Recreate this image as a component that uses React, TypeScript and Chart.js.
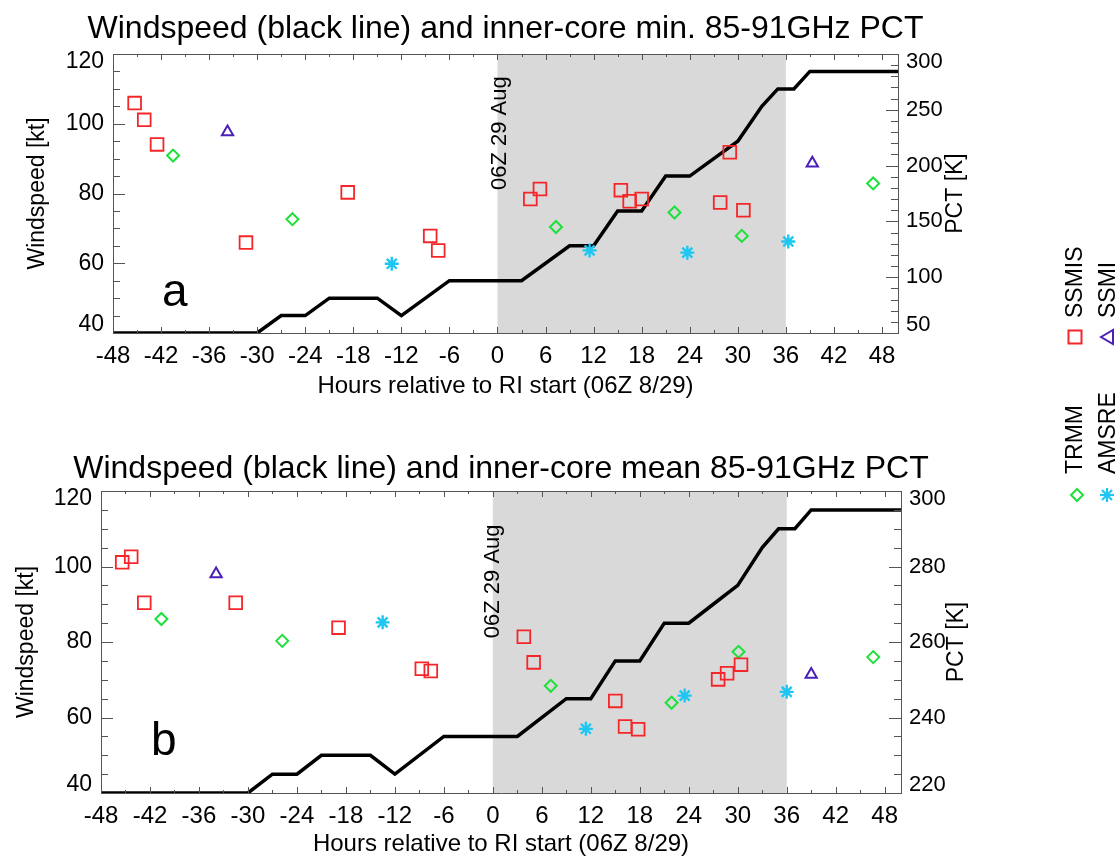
import React, { useEffect, useRef } from "react";
import { Chart, registerables } from "chart.js";

Chart.register(...registerables);

// ---------------- DATA ----------------
const xTickValues = [-48, -42, -36, -30, -24, -18, -12, -6, 0, 6, 12, 18, 24, 30, 36, 42, 48];
const windTickValues = [40, 60, 80, 100, 120];
const pctTickValuesA = [50, 100, 150, 200, 250, 300];
const pctTickValuesB = [220, 240, 260, 280, 300];

// windspeed (kt) vs hours relative to RI start
const windHours = [-48, -30, -27, -24, -21, -15, -12, -6, 3, 9, 12, 15, 18, 21, 24, 27, 30, 33, 35, 37, 39, 50];
const windKt = [40, 40, 45, 45, 50, 50, 45, 55, 55, 65, 65, 75, 75, 85, 85, 90, 95, 105, 110, 110, 115, 115];

// Panel a: inner-core minimum PCT (K)
const ssmisHoursA = [-45.3, -44.1, -42.5, -31.4, -18.7, -8.4, -7.4, 4.1, 5.3, 15.4, 16.5, 18.0, 27.8, 29.0, 30.7];
const ssmisPctA = [256, 241, 219, 131, 176, 137, 124, 170, 179, 178, 168, 170, 167, 212, 160];
const ssmiHoursA = [-33.7, 39.3];
const ssmiPctA = [230, 202];
const trmmHoursA = [-40.5, -25.6, 7.3, 22.1, 30.5, 46.9];
const trmmPctA = [209, 152, 145, 158, 137, 184];
const amsreHoursA = [-13.2, 11.5, 23.7, 36.3];
const amsrePctA = [112, 124, 122, 132];

// Panel b: inner-core mean PCT (K)
const ssmisHoursB = [-45.4, -44.3, -42.7, -31.5, -18.9, -8.7, -7.6, 3.8, 5.0, 15.0, 16.2, 17.8, 27.6, 28.7, 30.4];
const ssmisPctB = [281.1, 282.6, 270.4, 270.4, 263.8, 252.9, 252.3, 261.4, 254.6, 244.4, 237.6, 236.9, 250.1, 251.7, 254.0];
const ssmiHoursB = [-33.9, 39.0];
const ssmiPctB = [278, 251.4];
const trmmHoursB = [-40.6, -25.8, 7.1, 21.9, 30.1, 46.6];
const trmmPctB = [266.1, 260.3, 248.4, 243.9, 257.4, 256.0];
const amsreHoursB = [-13.5, 11.4, 23.5, 36.0];
const amsrePctB = [265.2, 237.0, 245.8, 246.8];

const riStart = 0;
const riEnd = 36;

// ---------------- STYLE ----------------
const FONT = '"Liberation Sans", Arial, Helvetica, sans-serif';
const RED = "#f5262a";
const PURPLE = "#4a1fb8";
const GREEN = "#1fe03a";
const CYAN = "#1ec6f2";
const AXIS = "#555555";
const SHADE = "#d9d9d9";
const CANVAS_W = 1000;

const zip = (xs: number[], ys: number[]) => xs.map((x, i) => ({ x, y: ys[i] }));

type PanelCfg = {
  top: number;
  height: number;
  area: { left: number; right: number; top: number; bottom: number };
  title: string;
  titleY: number;
  xTitleY: number;
  yTitleX: number;
  y1TitleX: number;
  letter: string;
  letterX: number;
  letterY: number;
  labelOffset: number;
  y1Min: number;
  y1Max: number;
  y1Ticks: number[];
  y1Minor: number;
  y1Major: number;
  ssmis: { x: number; y: number }[];
  ssmi: { x: number; y: number }[];
  trmm: { x: number; y: number }[];
  amsre: { x: number; y: number }[];
};

function Panel({ cfg }: { cfg: PanelCfg }) {
  const ref = useRef<HTMLCanvasElement | null>(null);
  useEffect(() => {
    if (!ref.current) return;
    const a = cfg.area;
    const line = (ctx: CanvasRenderingContext2D, x1: number, y1: number, x2: number, y2: number) => {
      ctx.beginPath();
      ctx.moveTo(x1, y1);
      ctx.lineTo(x2, y2);
      ctx.stroke();
    };
    const deco = {
      id: "deco",
      beforeDraw(chart: any) {
        const ctx = chart.ctx as CanvasRenderingContext2D;
        const ca = chart.chartArea;
        const xs = chart.scales.x;
        const x0 = xs.getPixelForValue(riStart);
        const x1 = xs.getPixelForValue(riEnd);
        ctx.save();
        ctx.fillStyle = SHADE;
        ctx.fillRect(x0, ca.top, x1 - x0, ca.bottom - ca.top);
        ctx.restore();
      },
      afterDraw(chart: any) {
        const ctx = chart.ctx as CanvasRenderingContext2D;
        const ca = chart.chartArea;
        const xs = chart.scales.x;
        const ys = chart.scales.y;
        const y1s = chart.scales.y1;
        ctx.save();
        ctx.strokeStyle = AXIS;
        ctx.lineWidth = 1;
        line(ctx, ca.left, ca.top + 0.5, ca.right, ca.top + 0.5);
        for (let h = -48; h <= 48; h += 3) {
          const px = Math.round(xs.getPixelForValue(h)) + 0.5;
          const L = h % 6 === 0 ? 6 : 3;
          line(ctx, px, ca.bottom, px, ca.bottom - L);
          line(ctx, px, ca.top, px, ca.top + L);
        }
        for (let v = 40; v <= 120; v += 5) {
          const py = Math.round(ys.getPixelForValue(v)) + 0.5;
          const L = v % 20 === 0 ? 12 : 7;
          line(ctx, ca.left, py, ca.left + L, py);
        }
        for (let v = cfg.y1Min; v <= cfg.y1Max; v += cfg.y1Minor) {
          const py = Math.round(y1s.getPixelForValue(v)) + 0.5;
          const L = (v - cfg.y1Min) % cfg.y1Major === 0 ? 12 : 7;
          line(ctx, ca.right, py, ca.right - L, py);
        }
        ctx.fillStyle = "#000";
        // y tick labels (end labels kept inside the frame, as in the original)
        const clampY = (py: number) => Math.min(ca.bottom - 8, Math.max(ca.top + 8, py));
        ctx.textBaseline = "middle";
        ctx.font = `23px ${FONT}`;
        ctx.textAlign = "right";
        for (const t of ys.ticks) {
          ctx.fillText(String(t.value), ca.left - 9, clampY(ys.getPixelForValue(t.value)));
        }
        ctx.font = `22px ${FONT}`;
        ctx.textAlign = "left";
        for (const t of y1s.ticks) {
          ctx.fillText(String(t.value), ca.right + 8, clampY(y1s.getPixelForValue(t.value)));
        }
        ctx.textBaseline = "alphabetic";
        // title
        ctx.font = `32px ${FONT}`;
        ctx.textAlign = "center";
        ctx.fillText(cfg.title, (ca.left + ca.right) / 2, cfg.titleY);
        // x title
        ctx.font = `24px ${FONT}`;
        ctx.fillText("Hours relative to RI start (06Z 8/29)", (ca.left + ca.right) / 2, cfg.xTitleY);
        // y titles
        const mid = (ca.top + ca.bottom) / 2;
        ctx.save();
        ctx.translate(cfg.yTitleX, mid);
        ctx.rotate(-Math.PI / 2);
        ctx.font = `23px ${FONT}`;
        ctx.fillText("Windspeed [kt]", 0, 0);
        ctx.restore();
        ctx.save();
        ctx.translate(cfg.y1TitleX, mid);
        ctx.rotate(-Math.PI / 2);
        ctx.font = `23px ${FONT}`;
        ctx.fillText("PCT [K]", 0, 0);
        ctx.restore();
        // RI label
        ctx.save();
        ctx.translate(xs.getPixelForValue(riStart) + cfg.labelOffset, ys.getPixelForValue(81));
        ctx.rotate(-Math.PI / 2);
        ctx.textAlign = "left";
        ctx.font = `22px ${FONT}`;
        ctx.fillText("06Z 29 Aug", 0, 0);
        ctx.restore();
        // panel letter
        ctx.textAlign = "left";
        ctx.font = `46px ${FONT}`;
        ctx.fillText(cfg.letter, cfg.letterX, cfg.letterY);
        ctx.restore();
      },
    };

    const tickFont = { family: FONT, size: 23 };
    const chart = new Chart(ref.current, {
      type: "scatter",
      data: {
        datasets: [
          {
            label: "Windspeed",
            data: zip(windHours, windKt),
            showLine: true,
            borderColor: "#000",
            borderWidth: 3.5,
            pointRadius: 0,
            yAxisID: "y",
            order: 5,
          } as any,
          {
            label: "SSMIS",
            data: cfg.ssmis,
            pointStyle: "rect",
            pointRadius: 9,
            borderColor: RED,
            backgroundColor: "rgba(0,0,0,0)",
            borderWidth: 1.8,
            yAxisID: "y1",
            order: 1,
          },
          {
            label: "SSMI",
            data: cfg.ssmi,
            pointStyle: "triangle",
            pointRadius: 6.5,
            borderColor: PURPLE,
            backgroundColor: "rgba(0,0,0,0)",
            borderWidth: 2,
            yAxisID: "y1",
            order: 1,
          },
          {
            label: "TRMM",
            data: cfg.trmm,
            pointStyle: "rectRot",
            pointRadius: 6,
            borderColor: GREEN,
            backgroundColor: "rgba(0,0,0,0)",
            borderWidth: 2,
            yAxisID: "y1",
            order: 1,
          },
          {
            label: "AMSRE",
            data: cfg.amsre,
            pointStyle: "star",
            pointRadius: 7,
            borderColor: CYAN,
            backgroundColor: CYAN,
            borderWidth: 2.4,
            yAxisID: "y1",
            order: 1,
          },
        ],
      },
      options: {
        animation: false,
        responsive: false,
        events: [],
        layout: { padding: { top: a.top, left: 0, right: 0, bottom: 0 } },
        plugins: { legend: { display: false }, tooltip: { enabled: false }, title: { display: false } },
        scales: {
          x: {
            type: "linear",
            min: -48,
            max: 50,
            afterBuildTicks: (s: any) => {
              s.ticks = xTickValues.map((value) => ({ value }));
            },
            afterFit: (s: any) => {
              s.height = cfg.height - a.bottom;
            },
            grid: { display: false, drawTicks: false },
            border: { display: true, color: AXIS, width: 1 },
            ticks: { font: { family: FONT, size: 24 }, color: "#000", padding: 9, autoSkip: false, maxRotation: 0 },
          },
          y: {
            type: "linear",
            position: "left",
            min: 40,
            max: 120,
            afterBuildTicks: (s: any) => {
              s.ticks = windTickValues.map((value) => ({ value }));
            },
            afterFit: (s: any) => {
              s.width = a.left;
            },
            grid: { display: false, drawTicks: false },
            border: { display: true, color: AXIS, width: 1 },
            ticks: { display: false, font: tickFont },
          },
          y1: {
            type: "linear",
            position: "right",
            min: cfg.y1Min,
            max: cfg.y1Max,
            afterBuildTicks: (s: any) => {
              s.ticks = cfg.y1Ticks.map((value) => ({ value }));
            },
            afterFit: (s: any) => {
              s.width = CANVAS_W - a.right;
            },
            grid: { display: false, drawTicks: false },
            border: { display: true, color: AXIS, width: 1 },
            ticks: { display: false, font: { family: FONT, size: 22 } },
          },
        },
      } as any,
      plugins: [deco],
    });
    return () => chart.destroy();
  }, [cfg]);
  return (
    <canvas
      ref={ref}
      width={CANVAS_W}
      height={cfg.height}
      style={{ position: "absolute", left: 0, top: cfg.top, width: CANVAS_W, height: cfg.height }}
    />
  );
}

const panelA: PanelCfg = {
  top: 0,
  height: 430,
  area: { left: 113, right: 898, top: 54, bottom: 333 },
  title: "Windspeed (black line) and inner-core min. 85-91GHz PCT",
  titleY: 38,
  xTitleY: 393,
  yTitleX: 44,
  y1TitleX: 962,
  letter: "a",
  letterX: 162,
  letterY: 306,
  labelOffset: 9,
  y1Min: 50,
  y1Max: 300,
  y1Ticks: pctTickValuesA,
  y1Minor: 10,
  y1Major: 50,
  ssmis: zip(ssmisHoursA, ssmisPctA),
  ssmi: zip(ssmiHoursA, ssmiPctA),
  trmm: zip(trmmHoursA, trmmPctA),
  amsre: zip(amsreHoursA, amsrePctA),
};

const panelB: PanelCfg = {
  top: 430,
  height: 427,
  area: { left: 101, right: 901, top: 61, bottom: 363 },
  title: "Windspeed (black line) and inner-core mean 85-91GHz PCT",
  titleY: 48,
  xTitleY: 421,
  yTitleX: 33,
  y1TitleX: 963,
  letter: "b",
  letterX: 151,
  letterY: 325,
  labelOffset: 6,
  y1Min: 220,
  y1Max: 300,
  y1Ticks: pctTickValuesB,
  y1Minor: 5,
  y1Major: 20,
  ssmis: zip(ssmisHoursB, ssmisPctB),
  ssmi: zip(ssmiHoursB, ssmiPctB),
  trmm: zip(trmmHoursB, trmmPctB),
  amsre: zip(amsreHoursB, amsrePctB),
};

function Legend() {
  const txt = { fontFamily: FONT, fontSize: 23, fill: "#000" } as any;
  return (
    <svg
      width={1120}
      height={857}
      style={{ position: "absolute", left: 0, top: 0, pointerEvents: "none" }}
    >
      <rect x={1068.5} y={330.5} width={13} height={13} fill="none" stroke={RED} strokeWidth={2} />
      <text transform="translate(1082,318) rotate(-90)" {...txt}>SSMIS</text>
      <polygon points="1101,337 1113,330 1113,344" fill="none" stroke={PURPLE} strokeWidth={2} />
      <text transform="translate(1115,318) rotate(-90)" {...txt}>SSMI</text>
      <polygon points="1077,489 1083,495 1077,501 1071,495" fill="none" stroke={GREEN} strokeWidth={2} />
      <text transform="translate(1082,474) rotate(-90)" {...txt}>TRMM</text>
      <g stroke={CYAN} strokeWidth={2.2}>
        <line x1={1100} y1={495} x2={1114} y2={495} />
        <line x1={1107} y1={488} x2={1107} y2={502} />
        <line x1={1102} y1={490} x2={1112} y2={500} />
        <line x1={1102} y1={500} x2={1112} y2={490} />
      </g>
      <text transform="translate(1115,474) rotate(-90)" {...txt}>AMSRE</text>
    </svg>
  );
}

export default function App() {
  return (
    <div style={{ position: "absolute", left: 0, top: 0, width: 1120, height: 857, background: "#fff", overflow: "hidden" }}>
      <Panel cfg={panelA} />
      <Panel cfg={panelB} />
      <Legend />
    </div>
  );
}
